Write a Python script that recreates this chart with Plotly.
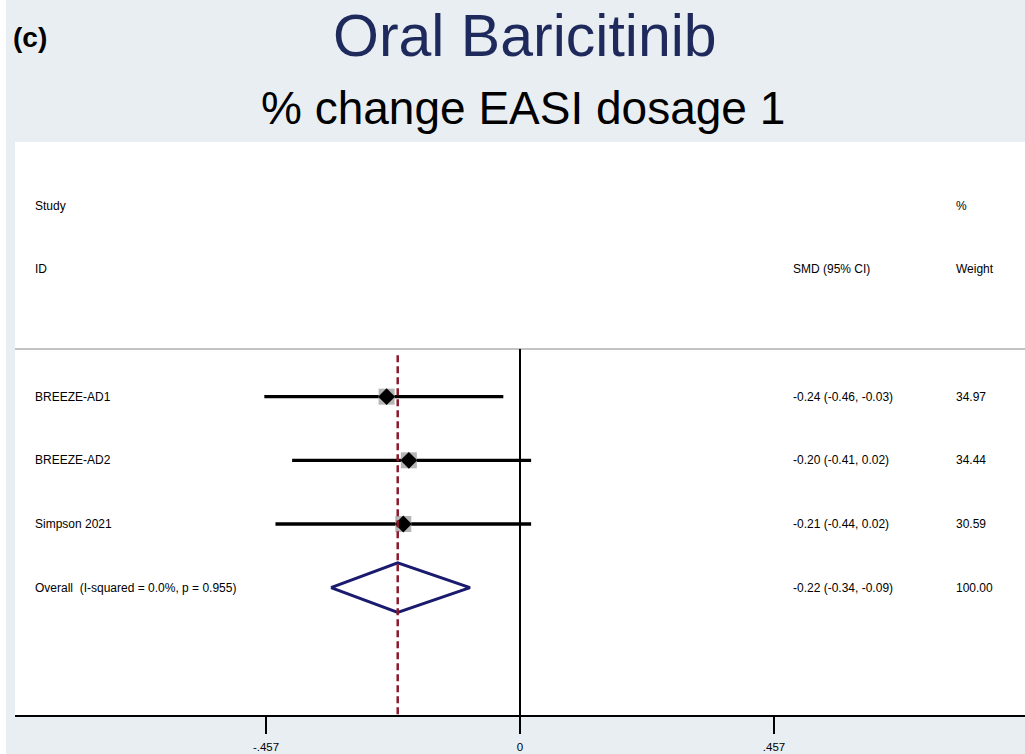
import plotly.graph_objects as go

# Study-level results (standardised mean difference, 95% CI, weight %)
studies = ["BREEZE-AD1", "BREEZE-AD2", "Simpson 2021"]
smd = [-0.24, -0.20, -0.21]
ci_low = [-0.46, -0.41, -0.44]
ci_high = [-0.03, 0.02, 0.02]
weights = ["34.97", "34.44", "30.59"]

# Pooled estimate
overall_label = "Overall  (I-squared = 0.0%, p = 0.955)"
overall_smd = -0.22
overall_low = -0.34
overall_high = -0.09
overall_weight = "100.00"

# Axis ticks
tick_vals = [-0.457, 0, 0.457]
tick_text = ["-.457", "0", ".457"]

BG = "#e9eef2"
NAVY = "#1a1a6e"
TEXT_FONT = "Liberation Sans, Arial, Helvetica, sans-serif"

rows = list(range(len(studies)))
row_y = [-r for r in rows]
overall_y = -len(studies)

fig = go.Figure()

# Confidence interval lines
for y, lo, hi in zip(row_y, ci_low, ci_high):
    fig.add_trace(go.Scatter(x=[lo, hi], y=[y, y], mode="lines",
                             line=dict(color="black", width=3.3),
                             hoverinfo="skip", showlegend=False))

# Weight boxes
fig.add_trace(go.Scatter(x=smd, y=row_y, mode="markers",
                         marker=dict(symbol="square", size=16, color="#b5b5b5",
                                     line=dict(width=0)),
                         hoverinfo="skip", showlegend=False))
# Point estimates
fig.add_trace(go.Scatter(x=smd, y=row_y, mode="markers",
                         marker=dict(symbol="diamond", size=13, color="black",
                                     line=dict(width=0)),
                         hoverinfo="skip", showlegend=False))

# Pooled diamond
half_h = 0.39
fig.add_trace(go.Scatter(
    x=[overall_low, overall_smd, overall_high, overall_smd, overall_low],
    y=[overall_y, overall_y + half_h, overall_y, overall_y - half_h, overall_y],
    mode="lines", line=dict(color=NAVY, width=3),
    hoverinfo="skip", showlegend=False))

sep_y = 0.75
y_bottom = overall_y - 2

shapes = [
    # white strip at far left edge
    dict(type="rect", xref="paper", yref="paper", x0=-15 / 1010, x1=-9 / 1010,
         y0=-39 / 573, y1=1 + 142 / 573, fillcolor="white", line=dict(width=0),
         layer="below"),
    # header separator
    dict(type="line", xref="paper", yref="y", x0=0, x1=1, y0=sep_y, y1=sep_y,
         line=dict(color="#c3c3c3", width=2)),
    # line of no effect
    dict(type="line", xref="x", yref="y", x0=0, x1=0, y0=sep_y, y1=y_bottom,
         line=dict(color="black", width=2)),
    # pooled effect reference line
    dict(type="line", xref="x", yref="y", x0=overall_smd, x1=overall_smd,
         y0=sep_y - 0.1, y1=y_bottom,
         line=dict(color="#8b1a2e", width=2.5, dash="7px,4px")),
]

annotations = []
COL_STUDY = 0.0178
COL_SMD = 0.768
COL_WEIGHT = 0.930


def txt(x, y, s, size=12):
    annotations.append(dict(x=x, y=y, xref="paper", yref="y", text=s,
                            showarrow=False, xanchor="left", yanchor="middle",
                            font=dict(size=size, color="black",
                                      family=TEXT_FONT)))


# column headers
txt(COL_STUDY, 3, "Study")
txt(COL_STUDY, 2, "ID")
txt(COL_SMD, 2, "SMD (95% CI)")
txt(COL_WEIGHT, 3, "%")
txt(COL_WEIGHT, 2, "Weight")

# study rows
for y, name, es, lo, hi, w in zip(row_y, studies, smd, ci_low, ci_high, weights):
    txt(COL_STUDY, y, name)
    txt(COL_SMD, y, f"{es:.2f} ({lo:.2f}, {hi:.2f})")
    txt(COL_WEIGHT, y, w)

txt(COL_STUDY, overall_y, overall_label)
txt(COL_SMD, overall_y,
    f"{overall_smd:.2f} ({overall_low:.2f}, {overall_high:.2f})")
txt(COL_WEIGHT, overall_y, overall_weight)

# titles
annotations.append(dict(x=(525 - 15) / 1010, y=(715 - 36) / 573, xref="paper",
                        yref="paper", text="Oral Baricitinib", showarrow=False,
                        xanchor="center", yanchor="middle",
                        font=dict(size=59, color="#1f2a5c", family=TEXT_FONT)))
annotations.append(dict(x=(523 - 15) / 1010, y=(715 - 108) / 573, xref="paper",
                        yref="paper", text="% change EASI dosage 1",
                        showarrow=False, xanchor="center", yanchor="middle",
                        font=dict(size=46, color="black", family=TEXT_FONT)))
annotations.append(dict(x=(11 - 15) / 1010, y=(715 - 38) / 573, xref="paper",
                        yref="paper", text="<b>(c)</b>", showarrow=False,
                        xanchor="left", yanchor="middle",
                        font=dict(size=28, color="black", family=TEXT_FONT)))

fig.update_layout(
    width=1025, height=754,
    margin=dict(l=15, r=0, t=142, b=39),
    paper_bgcolor=BG, plot_bgcolor="white",
    shapes=shapes, annotations=annotations,
    showlegend=False,
    xaxis=dict(range=[-0.9086, 0.9086], tickvals=tick_vals, ticktext=tick_text,
               ticks="outside", ticklen=17, tickwidth=2, tickcolor="black",
               ticklabelstandoff=3,
               showline=True, linecolor="black", linewidth=2,
               showgrid=False, zeroline=False, fixedrange=True,
               tickfont=dict(size=11.5, color="black", family=TEXT_FONT)),
    yaxis=dict(range=[y_bottom, 4], showticklabels=False, showgrid=False,
               zeroline=False, showline=False, ticks="", fixedrange=True),
)

fig.write_html("out.html", config={"displayModeBar": False})
